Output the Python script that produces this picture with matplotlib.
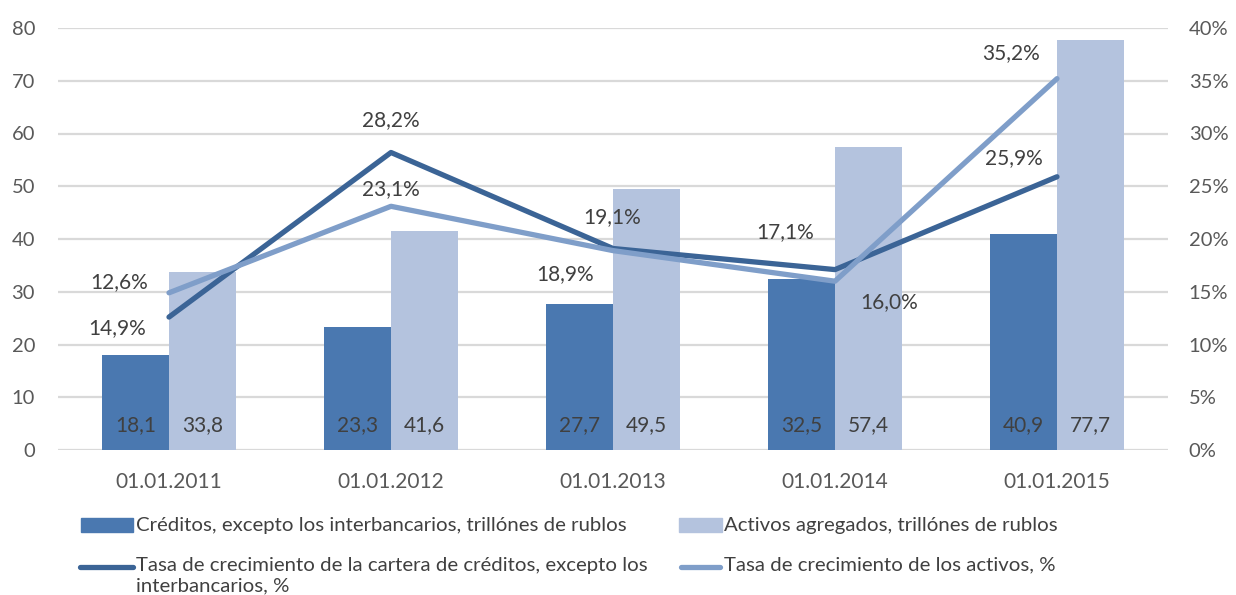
import matplotlib
matplotlib.use("Agg")
import matplotlib.pyplot as plt
import numpy as np
from matplotlib.patches import Rectangle
from matplotlib.lines import Line2D

plt.rcParams['font.family'] = ['Lato', 'DejaVu Sans']

# ---- data ----
categories = ["01.01.2011", "01.01.2012", "01.01.2013", "01.01.2014", "01.01.2015"]
credits = [18.1, 23.3, 27.7, 32.5, 40.9]
assets = [33.8, 41.6, 49.5, 57.4, 77.7]
credit_growth = [12.6, 28.2, 19.1, 17.1, 25.9]
asset_growth = [14.9, 23.1, 18.9, 16.0, 35.2]
left_ticks = [0, 10, 20, 30, 40, 50, 60, 70, 80]
right_ticks = [0, 5, 10, 15, 20, 25, 30, 35, 40]
legend_labels = ["Créditos, excepto los interbancarios, trillónes de rublos",
                 "Activos agregados, trillónes de rublos",
                 "Tasa de crecimiento de la cartera de créditos, excepto los\ninterbancarios, %",
                 "Tasa de crecimiento de los activos, %"]

# ---- styles ----
c_bar1 = "#4a78b0"
c_bar2 = "#b4c3de"
c_line1 = "#3b6496"
c_line2 = "#7f9ec9"
c_grid = "#d9d9d9"
c_text = "#404040"
c_tick = "#595959"
fs = 15
fs_y = 14.5
lfs = 14.7

W, H = 1236, 595
fig = plt.figure(figsize=(W / 100, H / 100), dpi=100)
ax = fig.add_axes([58 / W, 1 - 450 / H, (1168 - 58) / W, (450 - 28) / H])
ax2 = ax.twinx()

x = np.arange(len(categories))
bw = 0.3
ax.bar(x - bw / 2, credits, width=bw, color=c_bar1, zorder=2)
ax.bar(x + bw / 2, assets, width=bw, color=c_bar2, zorder=2)

ax.set_xlim(-0.5, len(categories) - 0.5)
ax.set_ylim(0, 80)
ax.set_yticks(left_ticks)
ax.set_yticklabels([str(t) for t in left_ticks])
ax.set_xticks(x)
ax.set_xticklabels(categories)
ax.yaxis.grid(True, color=c_grid, linewidth=1.6, zorder=0)
ax.set_axisbelow(True)
for s in ax.spines.values():
    s.set_visible(False)
for s in ax2.spines.values():
    s.set_visible(False)
ax.tick_params(axis='x', length=0, labelsize=fs, labelcolor=c_tick, pad=16)
ax.tick_params(axis='y', length=0, labelsize=fs_y, labelcolor=c_tick, pad=16.5)

# bar value labels
for xi, v in zip(x - bw / 2, credits):
    ax.annotate(f"{v:.1f}".replace('.', ','), xy=(xi, 0), xytext=(0, 18),
                textcoords='offset points', ha='center', va='center',
                fontsize=fs, color=c_text)
for xi, v in zip(x + bw / 2, assets):
    ax.annotate(f"{v:.1f}".replace('.', ','), xy=(xi, 0), xytext=(0, 18),
                textcoords='offset points', ha='center', va='center',
                fontsize=fs, color=c_text)

# lines
ax2.set_ylim(0, 40)
ax2.set_yticks(right_ticks)
ax2.set_yticklabels([f"{t}%" for t in right_ticks])
ax2.tick_params(axis='y', length=0, labelsize=fs_y, labelcolor=c_tick, pad=15)
ax2.plot(x, credit_growth, color=c_line1, linewidth=3.8, solid_capstyle='round', zorder=3)
ax2.plot(x, asset_growth, color=c_line2, linewidth=3.8, solid_capstyle='round', zorder=3)

# label offsets in pixels (dx, dy up)
off1 = [(-50, 35), (0, 32.5), (-1, 31.5), (-50, 37.6), (-43, 19)]
off2 = [(-52, -35), (0, 17), (-48, -23), (54, -21), (-46, 26)]
for xi, v, (dx, dy) in zip(x, credit_growth, off1):
    ax2.annotate(f"{v:.1f}%".replace('.', ','), xy=(xi, v), xytext=(dx * 0.72, dy * 0.72),
                 textcoords='offset points', ha='center', va='center', fontsize=fs, color=c_text)
for xi, v, (dx, dy) in zip(x, asset_growth, off2):
    ax2.annotate(f"{v:.1f}%".replace('.', ','), xy=(xi, v), xytext=(dx * 0.72, dy * 0.72),
                 textcoords='offset points', ha='center', va='center', fontsize=fs, color=c_text)

# manual legend (pixel coordinates)
def fx(px):
    return px / W
def fy(py):
    return 1 - py / H

fig.patches.append(Rectangle((fx(81), fy(532)), (133 - 81) / W, 14 / H, color=c_bar1,
                             transform=fig.transFigure))
fig.text(fx(136), fy(525), legend_labels[0], fontsize=lfs, color=c_text, va='center', ha='left')
fig.patches.append(Rectangle((fx(679), fy(532)), (722 - 679) / W, 14 / H, color=c_bar2,
                             transform=fig.transFigure))
fig.text(fx(724), fy(525), legend_labels[1], fontsize=lfs, color=c_text, va='center', ha='left')
fig.lines.append(Line2D([fx(80), fx(133)], [fy(567), fy(567)], color=c_line1, linewidth=3.8,
                        solid_capstyle='round', transform=fig.transFigure))
l1, l2 = legend_labels[2].split("\n")
fig.text(fx(136), fy(565), l1, fontsize=lfs, color=c_text, va='center', ha='left')
fig.text(fx(136), fy(586), l2, fontsize=lfs, color=c_text, va='center', ha='left')
fig.lines.append(Line2D([fx(681), fx(720)], [fy(567), fy(567)], color=c_line2, linewidth=3.8,
                        solid_capstyle='round', transform=fig.transFigure))
fig.text(fx(724), fy(565), legend_labels[3], fontsize=lfs, color=c_text, va='center', ha='left')

fig.savefig("out.png", dpi=100)
